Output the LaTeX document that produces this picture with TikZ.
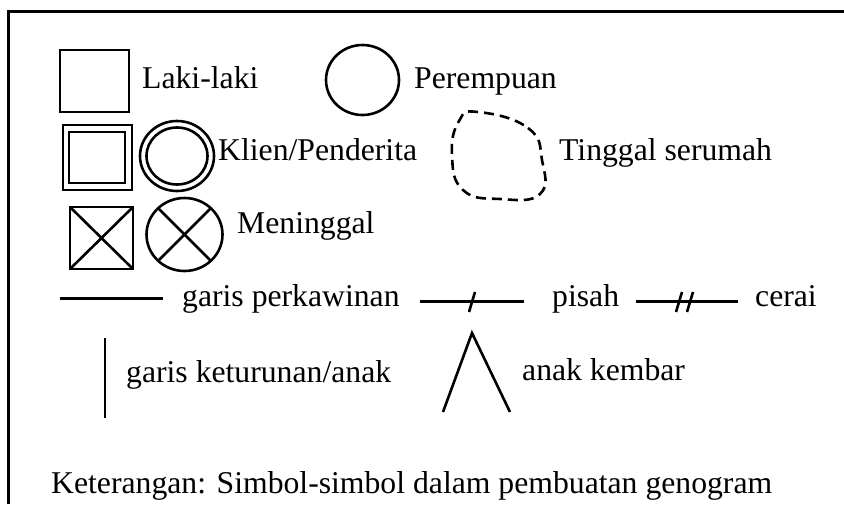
\documentclass[tikz,border=0pt]{standalone}
\usepackage{fontspec}
\setmainfont{Liberation Serif}
\begin{document}
\begin{tikzpicture}[x=1pt,y=-1pt,
  sym/.style={line width=2.6pt},
  lbl/.style={anchor=base west,inner sep=0pt,font=\fontsize{31.7}{38}\selectfont}]
\useasboundingbox (0,0) rectangle (844,504);
% frame
\draw[line width=3pt] (8.5,504) -- (8.5,11) -- (844,11);
% row 1
\draw[sym] (60,50) rectangle (129,112);
\node[lbl] (t1) at (142,88) {Laki-laki};
\draw[sym] (362.5,80) ellipse [x radius=36.5pt, y radius=35pt];
\node[lbl] (t2) at (414,88) {Perempuan};
% row 2
\draw[sym] (63,125) rectangle (132,190);
\draw[sym] (69,132) rectangle (125,183);
\draw[sym] (177,156) ellipse [x radius=37pt, y radius=35pt];
\draw[sym] (177,156) ellipse [x radius=30.5pt, y radius=28.5pt];
\node[lbl] (t3) at (218,160) {Klien/Penderita};
\draw[sym,dash pattern=on 10pt off 6pt] plot[smooth cycle,tension=0.8] coordinates
  {(478,112) (528,128) (542,160) (540,194) (500,199) (463,190) (452,155) (459,121)};
\node[lbl] (t4) at (559,160) {Tinggal serumah};
% row 3
\draw[sym] (70,207) rectangle (133,269);
\draw[sym] (70,207) -- (133,269) (70,269) -- (133,207);
\draw[sym] (184.5,234.5) ellipse [x radius=38pt, y radius=36.5pt];
\draw[sym] (184.5,234.5) ++(135:37pt) -- ++(-45:74pt);
\draw[sym] (184.5,234.5) ++(45:37pt) -- ++(-135:74pt);
\node[lbl] (t5) at (237,233) {Meninggal};
% row 4
\draw[sym] (60,298.5) -- (163,298.5);
\node[lbl] (t6) at (182,306) {garis perkawinan};
\draw[sym] (420,301.5) -- (524,301.5);
\draw[sym] (469,312) -- (475,292);
\node[lbl] (t7) at (552,306) {pisah};
\draw[sym] (636,301.5) -- (738,301.5);
\draw[sym] (676,312) -- (682,292);
\draw[sym] (687,312) -- (693,292);
\node[lbl] (t8) at (755,306) {cerai};
% row 5
\draw[sym] (105,338) -- (105,418);
\node[lbl] (t9) at (126,382) {garis keturunan/anak};
\draw[sym] (443,412) -- (472,333) -- (510,412);
\node[lbl] (t10) at (522,380) {anak kembar};
% caption
\node[lbl] (t11) at (51,493) {Keterangan: Simbol-simbol dalam pembuatan genogram};
\end{tikzpicture}
\end{document}
